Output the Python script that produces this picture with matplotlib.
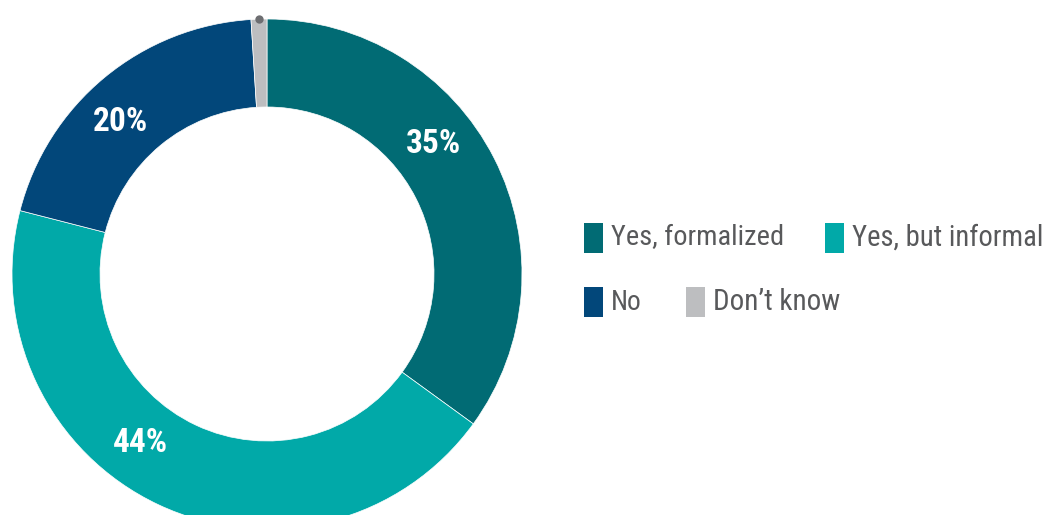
import numpy as np
import matplotlib
matplotlib.use("Agg")
import matplotlib.pyplot as plt
from matplotlib import font_manager
from matplotlib.patches import Rectangle

# Survey responses (percent)
categories = ["Yes, formalized", "Yes, but informal", "No", "Don’t know"]
values = [35, 44, 20, 1]
colors = ["#016B74", "#01A9A8", "#02477A", "#BDBEC0"]
pct_labels = [f"{v}%" for v in values]

# prefer a narrow face when one is installed
available = {f.name for f in font_manager.fontManager.ttflist}
candidates = ["Roboto Condensed", "Open Sans Condensed", "Liberation Sans Narrow",
              "DejaVu Sans Condensed", "Liberation Sans", "DejaVu Sans"]
FONT = [n for n in candidates if n in available] + ["DejaVu Sans"]

W, H = 1051, 515
fig = plt.figure(figsize=(W / 100, H / 100), dpi=100)
ax = fig.add_axes([0, 0, 1, 1])
ax.set_xlim(0, W)
ax.set_ylim(0, H)
ax.set_aspect("equal")
ax.axis("off")

cx, cy = 267, H - 274
R_out, R_in = 255, 167

ax.pie(values, colors=colors, startangle=90, counterclock=False,
       radius=R_out, center=(cx, cy),
       wedgeprops=dict(width=R_out - R_in, linewidth=0.5, edgecolor="white"))
ax.set_xlim(0, W)
ax.set_ylim(0, H)

renderer = fig.canvas.get_renderer()


def fit(text_obj, target_px, max_size):
    """Shrink a text until its rendered width is no wider than target_px."""
    text_obj.set_fontsize(max_size)
    w = text_obj.get_window_extent(renderer).width
    if w > target_px:
        text_obj.set_fontsize(max_size * target_px / w)


# percentage labels placed along the ring (clockwise degrees from top)
label_angles = [52, 217, 316, None]
r_mid = (R_out + R_in) / 2
for txt, ang in zip(pct_labels, label_angles):
    if ang is None:
        continue
    t = np.deg2rad(ang)
    lab = ax.text(cx + r_mid * np.sin(t), cy + r_mid * np.cos(t), txt,
                  ha="center", va="center", color="white",
                  fontweight="bold", family=FONT)
    fit(lab, 57, 24)

# small marker at the outer edge of the thin slice
cum = np.cumsum([0] + values)
mid = (cum[-2] + cum[-1]) / 2 / sum(values) * 2 * np.pi
ax.scatter([cx + R_out * np.sin(mid)], [cy + R_out * np.cos(mid)], s=36,
           color="#6D6E71", zorder=5, linewidths=0)

# legend, laid out as two flowing rows
legend_pos = [(584, 238), (825, 238), (584, 302), (686, 302)]
legend_w = [173, 192, 31, 128]
for (x, yc), name, col, tw in zip(legend_pos, categories, colors, legend_w):
    ax.add_patch(Rectangle((x, H - yc - 15), 19, 30, color=col, lw=0))
    t = ax.text(x + 27, H - yc, name, ha="left", va="center", color="#58595B",
                family=FONT)
    fit(t, tw, 23)

fig.savefig("out.png", dpi=100)
